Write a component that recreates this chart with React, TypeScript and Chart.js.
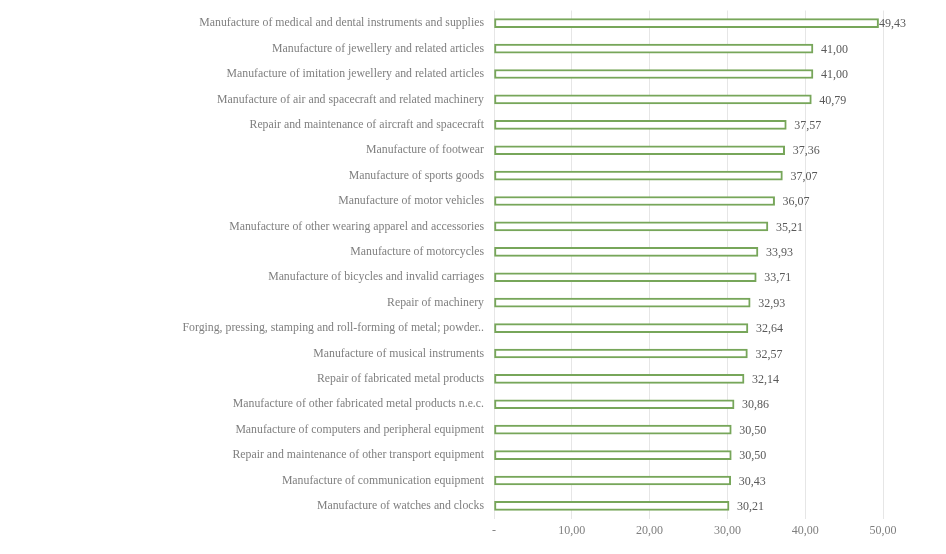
import React, { useEffect, useRef } from "react";
import { Chart, registerables } from "chart.js";

Chart.register(...registerables);

const categories: string[] = [
  "Manufacture of medical and dental instruments and supplies",
  "Manufacture of jewellery and related articles",
  "Manufacture of imitation jewellery and related articles",
  "Manufacture of air and spacecraft and related machinery",
  "Repair and maintenance of aircraft and spacecraft",
  "Manufacture of footwear",
  "Manufacture of sports goods",
  "Manufacture of motor vehicles",
  "Manufacture of other wearing apparel and accessories",
  "Manufacture of motorcycles",
  "Manufacture of bicycles and invalid carriages",
  "Repair of machinery",
  "Forging, pressing, stamping and roll-forming of metal; powder..",
  "Manufacture of musical instruments",
  "Repair of fabricated metal products",
  "Manufacture of other fabricated metal products n.e.c.",
  "Manufacture of computers and peripheral equipment",
  "Repair and maintenance of other transport equipment",
  "Manufacture of communication equipment",
  "Manufacture of watches and clocks",
];

const values: number[] = [
  49.43, 41.0, 41.0, 40.79, 37.57, 37.36, 37.07, 36.07, 35.21, 33.93, 33.71,
  32.93, 32.64, 32.57, 32.14, 30.86, 30.5, 30.5, 30.43, 30.21,
];

const xTicks: number[] = [0, 10, 20, 30, 40, 50];

const fmt = (v: number) => (v === 0 ? "-" : v.toFixed(2).replace(".", ","));

const TEXT = "#7f7f7f";
const FONT = "'Liberation Serif', 'Times New Roman', serif";

const valueLabels = {
  id: "valueLabels",
  afterDatasetsDraw(chart: any) {
    const ctx = chart.ctx;
    const meta = chart.getDatasetMeta(0);
    ctx.save();
    ctx.font = `12px ${FONT}`;
    ctx.fillStyle = "#595959";
    ctx.textBaseline = "middle";
    ctx.textAlign = "left";
    meta.data.forEach((bar: any, i: number) => {
      const txt = fmt(values[i]);
      const w = ctx.measureText(txt).width;
      let x = bar.x + 8;
      const limit = chart.chartArea.right + 23;
      if (x + w > limit) x = limit - w;
      ctx.fillText(txt, x, bar.y + 1);
    });
    ctx.restore();
  },
};

export default function App() {
  const ref = useRef<HTMLCanvasElement | null>(null);
  useEffect(() => {
    document.body.style.margin = "0";
    const chart = new Chart(ref.current as HTMLCanvasElement, {
      type: "bar",
      data: {
        labels: categories,
        datasets: [
          {
            data: values,
            backgroundColor: "#ffffff",
            borderColor: "#77a65a",
            borderWidth: 2,
            borderSkipped: false,
            barThickness: 9,
          },
        ],
      },
      options: {
        indexAxis: "y",
        animation: false,
        responsive: false,
        maintainAspectRatio: false,
        layout: { padding: { top: 10.5, right: 63, bottom: 11, left: 0 } },
        plugins: { legend: { display: false }, tooltip: { enabled: false } },
        scales: {
          x: {
            min: 0,
            max: 50,
            afterBuildTicks: (scale: any) => {
              scale.ticks = xTicks.map((v) => ({ value: v }));
            },
            ticks: {
              callback: (v: any) => fmt(Number(v)),
              color: TEXT,
              font: { family: FONT, size: 12 },
              padding: 5,
              maxRotation: 0,
            },
            grid: { color: "#e6e6e6", lineWidth: 1, drawTicks: false },
            border: { display: false },
          },
          y: {
            afterFit: (scale: any) => {
              scale.width = 494;
              scale.paddingTop = 0;
              scale.paddingBottom = 0;
            },
            ticks: {
              color: TEXT,
              font: { family: FONT, size: 11.8 },
              padding: 10,
              autoSkip: false,
            },
            grid: { display: false, drawTicks: false },
            border: { display: false },
          },
        },
      },
      plugins: [valueLabels],
    });
    return () => chart.destroy();
  }, []);
  return (
    <div style={{ position: "absolute", left: 0, top: 0, width: 946, height: 554 }}>
      <canvas ref={ref} width={946} height={554} />
    </div>
  );
}
